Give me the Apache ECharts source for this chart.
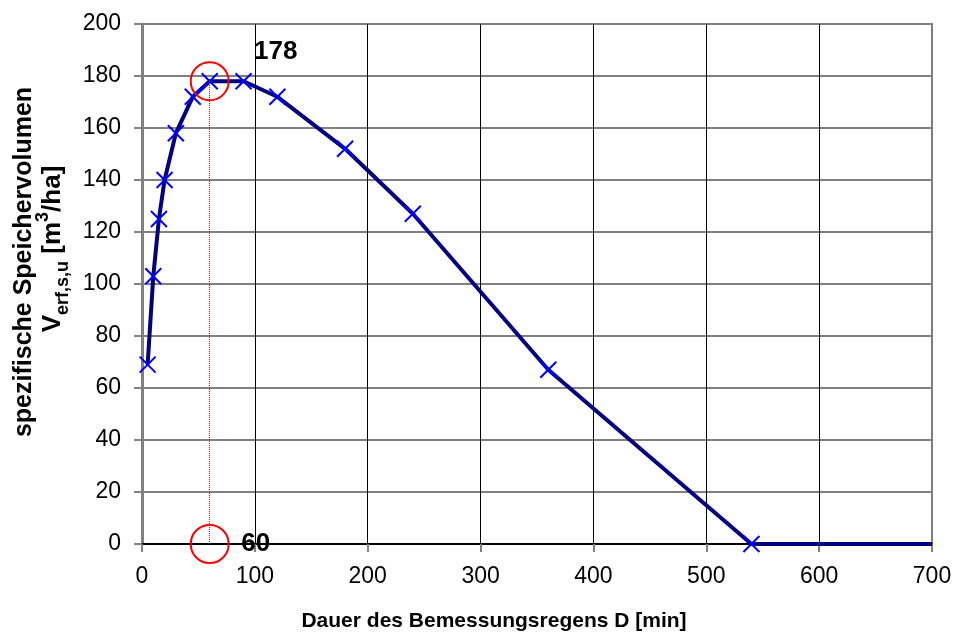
<!DOCTYPE html>
<html lang="de">

<head>
    <meta charset="UTF-8">
    <title>Speichervolumen</title>
    <script src="https://cdn.jsdelivr.net/npm/echarts@6/dist/echarts.min.js"></script>
    <style>
        body { margin: 0; }
        .demo {
            width: 954px;
            height: 636px;
        }
    </style>
</head>

<body>
    <div class="demo"></div>
    <script>
        // Dauer D [min] und spezifisches Speichervolumen [m3/ha]
        var durations = [5, 10, 15, 20, 30, 45, 60, 90, 120, 180, 240, 360, 540, 700]
        var volumes = [69, 103, 125, 140, 158, 172, 178, 178, 172, 152, 127, 67, 0, 0]
        var peakDuration = 60
        var peakVolume = 178

        var font = "'Liberation Sans', Arial, sans-serif"
        var cross = 'path://M0,0L10,10M10,0L0,10'

        var lineData = []
        for (var i = 0; i < durations.length; i++) {
            var item = { value: [durations[i], volumes[i]] }
            // letzter Punkt (700) ohne Markierung
            if (i === durations.length - 1) item.symbol = 'none'
            lineData.push(item)
        }

        var div = echarts.init(document.querySelector('.demo'))
        var option = {
            animation: false,
            textStyle: { fontFamily: font },
            grid: {
                left: 142,
                right: 22,
                top: 24,
                bottom: 92,
                show: true,
                borderColor: '#808080',
                borderWidth: 2,
                outerBoundsMode: 'none'
            },
            xAxis: {
                type: 'value',
                min: 0,
                max: 700,
                interval: 100,
                axisLine: { show: true, onZero: false, lineStyle: { color: '#000', width: 2 } },
                axisTick: { show: true, length: 8, lineStyle: { color: '#808080', width: 2 } },
                axisLabel: { margin: 21, fontSize: 23, color: '#000', fontFamily: font },
                splitLine: {
                    show: true,
                    showMaxLine: false,
                    lineStyle: { color: '#000', width: 1 }
                }
            },
            yAxis: {
                type: 'value',
                min: 0,
                max: 200,
                interval: 20,
                axisLine: { show: true, lineStyle: { color: '#808080', width: 3 } },
                axisTick: { show: true, length: 8, lineStyle: { color: '#808080', width: 2 } },
                axisLabel: { margin: 21, fontSize: 23, color: '#000', fontFamily: font },
                splitLine: { show: true, lineStyle: { color: '#808080', width: 2 } }
            },
            graphic: [
                {
                    type: 'text',
                    x: 24,
                    y: 262,
                    rotation: Math.PI / 2,
                    style: {
                        text: 'spezifische Speichervolumen',
                        font: 'bold 25px ' + font,
                        fill: '#000',
                        align: 'center',
                        verticalAlign: 'middle'
                    }
                },
                {
                    type: 'text',
                    x: 53,
                    y: 249,
                    rotation: Math.PI / 2,
                    style: {
                        text: '{a|V}{s|erf,s,u}{a| [m}{p|3}{a|/ha]}',
                        align: 'center',
                        verticalAlign: 'middle',
                        rich: {
                            a: { fontSize: 26, fontWeight: 'bold', fontFamily: font, fill: '#000', lineHeight: 30 },
                            s: { fontSize: 18, fontWeight: 'bold', fontFamily: font, fill: '#000', lineHeight: 38, verticalAlign: 'bottom' },
                            p: { fontSize: 18, fontWeight: 'bold', fontFamily: font, fill: '#000', lineHeight: 38, verticalAlign: 'top' }
                        }
                    }
                },
                {
                    type: 'text',
                    x: 494,
                    y: 621,
                    style: {
                        text: 'Dauer des Bemessungsregens D [min]',
                        font: 'bold 21px ' + font,
                        fill: '#000',
                        align: 'center',
                        verticalAlign: 'middle'
                    }
                }
            ],
            series: [
                {
                    name: 'Speichervolumen',
                    type: 'line',
                    data: lineData,
                    smooth: false,
                    symbol: cross,
                    symbolSize: 16,
                    showAllSymbol: true,
                    lineStyle: { color: '#000080', width: 4, join: 'round' },
                    itemStyle: { color: '#0000ff', borderColor: '#0000ff', borderWidth: 2 },
                    z: 3,
                    markLine: {
                        silent: true,
                        symbol: 'none',
                        label: { show: false },
                        lineStyle: { color: '#ff0000', width: 1, type: 'dotted' },
                        data: [[{ coord: [peakDuration, 0] }, { coord: [peakDuration, peakVolume] }]]
                    },
                    markPoint: {
                        silent: true,
                        symbol: 'circle',
                        symbolSize: 38,
                        itemStyle: { color: 'rgba(0,0,0,0)', borderColor: '#ff0000', borderWidth: 2 },
                        label: {
                            show: true,
                            position: 'inside',
                            fontSize: 26,
                            fontWeight: 'bold',
                            color: '#000',
                            fontFamily: font
                        },
                        data: [
                            { coord: [peakDuration, peakVolume], value: peakVolume, label: { offset: [66, -29] } },
                            { coord: [peakDuration, 0], value: peakDuration, label: { offset: [46, 0] } }
                        ]
                    }
                }
            ]
        }

        div.setOption(option)
    </script>
</body>

</html>
